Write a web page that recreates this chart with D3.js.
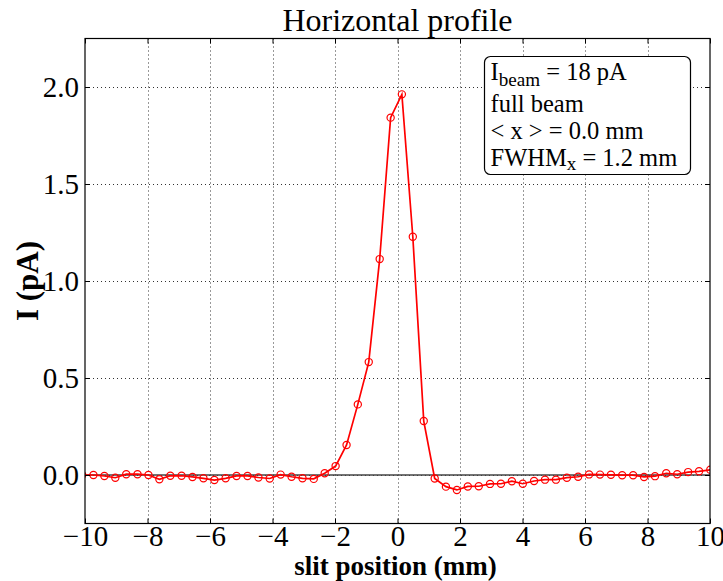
<!DOCTYPE html>
<html>
<head>
<meta charset="utf-8">
<script src="https://cdn.jsdelivr.net/npm/d3@7/dist/d3.min.js"></script>
<style>
  html, body { margin: 0; padding: 0; background: #fff; }
  svg { display: block; }
  text { font-family: "Liberation Serif", "DejaVu Serif", serif; fill: #000; }
</style>
</head>
<body>
<svg id="chart" width="723" height="581"></svg>
<script>
// Slit scan positions (mm) and measured current (pA)
const slitPos = [
  -10.09, -9.73, -9.38, -9.03, -8.68, -8.32, -7.97, -7.62, -7.27, -6.91,
  -6.56, -6.21, -5.86, -5.50, -5.15, -4.80, -4.45, -4.09, -3.74, -3.39,
  -3.04, -2.68, -2.33, -1.98, -1.63, -1.27, -0.92, -0.57, -0.22, 0.14,
  0.49, 0.84, 1.19, 1.55, 1.90, 2.25, 2.60, 2.96, 3.31, 3.66,
  4.01, 4.37, 4.72, 5.07, 5.42, 5.78, 6.13, 6.48, 6.83, 7.19,
  7.54, 7.89, 8.24, 8.60, 8.95, 9.30, 9.65, 10.01
];
const currentPA = [
  0.000, 0.000, -0.005, -0.014, 0.004, 0.004, 0.000, -0.022, -0.004, -0.004,
  -0.010, -0.017, -0.026, -0.017, -0.005, -0.005, -0.013, -0.018, 0.002, -0.009,
  -0.017, -0.020, 0.009, 0.046, 0.155, 0.364, 0.582, 1.113, 1.842, 1.962,
  1.228, 0.278, -0.018, -0.060, -0.077, -0.059, -0.058, -0.046, -0.045, -0.032,
  -0.045, -0.031, -0.024, -0.024, -0.014, -0.009, 0.003, 0.002, 0.001, -0.001,
  -0.001, -0.010, -0.006, 0.009, 0.004, 0.015, 0.019, 0.027
];
const xTicks = [-10, -8, -6, -4, -2, 0, 2, 4, 6, 8, 10];
const yTicks = [0.0, 0.5, 1.0, 1.5, 2.0];
const xDomain = [-10, 10];
const yDomain = [-0.25, 2.25];
const titleText = "Horizontal profile";
const xLabelText = "slit position (mm)";
const yLabelText = "I (pA)";

const svg = d3.select("#chart");
const plot = { left: 85, right: 710, top: 38.5, bottom: 523.5 };

const x = d3.scaleLinear().domain(xDomain).range([plot.left, plot.right]);
const y = d3.scaleLinear().domain(yDomain).range([plot.bottom, plot.top]);

svg.append("defs").append("clipPath").attr("id", "plotClip")
  .append("rect")
  .attr("x", plot.left).attr("y", plot.top)
  .attr("width", plot.right - plot.left).attr("height", plot.bottom - plot.top);

// dotted grid
const grid = svg.append("g").attr("stroke", "#000").attr("stroke-width", 1)
  .attr("stroke-dasharray", "1,3").attr("opacity", 0.8);
grid.selectAll("line.vx").data(xTicks.slice(1, -1)).join("line")
  .attr("x1", d => Math.round(x(d)) + 0.5).attr("x2", d => Math.round(x(d)) + 0.5)
  .attr("y1", plot.top).attr("y2", plot.bottom);
grid.selectAll("line.hy").data(yTicks).join("line")
  .attr("y1", d => Math.round(y(d)) + 0.5).attr("y2", d => Math.round(y(d)) + 0.5)
  .attr("x1", plot.left).attr("x2", plot.right);

// zero reference line
svg.append("line")
  .attr("x1", plot.left).attr("x2", plot.right)
  .attr("y1", y(0)).attr("y2", y(0))
  .attr("stroke", "#444").attr("stroke-width", 1.5);

// profile curve with open circle markers
const data = slitPos.map((p, i) => [p, currentPA[i]]);
const curve = svg.append("g").attr("clip-path", "url(#plotClip)");
curve.append("path")
  .datum(data)
  .attr("fill", "none").attr("stroke", "#ff0000").attr("stroke-width", 1.7)
  .attr("d", d3.line().x(d => x(d[0])).y(d => y(d[1])));
curve.selectAll("circle").data(data).join("circle")
  .attr("cx", d => x(d[0])).attr("cy", d => y(d[1])).attr("r", 3.6)
  .attr("fill", "none").attr("stroke", "#ff0000").attr("stroke-width", 1.2);

// axes frame with inward ticks on all sides
const tickLen = 5;
const tickFont = 29;
const axisG = svg.append("g");
const fmtX = d => (d < 0 ? "\u2212" + Math.abs(d) : String(d));
const xAxisBottom = d3.axisBottom(x).tickValues(xTicks).tickSize(-tickLen).tickFormat(fmtX);
const xAxisTop = d3.axisTop(x).tickValues(xTicks).tickSize(-tickLen).tickFormat("");
const yAxisLeft = d3.axisLeft(y).tickValues(yTicks).tickSize(-tickLen).tickPadding(6).tickFormat(d3.format(".1f"));
const yAxisRight = d3.axisRight(y).tickValues(yTicks).tickSize(-tickLen).tickFormat("");

const gxb = axisG.append("g").attr("transform", `translate(0,${plot.bottom})`).call(xAxisBottom);
const gxt = axisG.append("g").attr("transform", `translate(0,${plot.top})`).call(xAxisTop);
const gyl = axisG.append("g").attr("transform", `translate(${plot.left},0)`).call(yAxisLeft);
const gyr = axisG.append("g").attr("transform", `translate(${plot.right},0)`).call(yAxisRight);
[gxb, gxt, gyl, gyr].forEach(g => {
  g.select(".domain").remove();
  g.attr("font-family", null).attr("font-size", null);
  g.selectAll(".tick line").attr("stroke", "#000").attr("stroke-width", 1);
  g.selectAll("text").attr("fill", "#000").attr("font-size", tickFont);
});
gxb.selectAll("text").attr("y", 22.5).attr("dy", 0);
gyl.selectAll("text").attr("dy", "0.33em");

svg.append("rect")
  .attr("x", plot.left).attr("y", plot.top)
  .attr("width", plot.right - plot.left).attr("height", plot.bottom - plot.top)
  .attr("fill", "none").attr("stroke", "#000").attr("stroke-width", 1.2);

// title and axis labels
svg.append("text")
  .attr("x", (plot.left + plot.right) / 2).attr("y", 31)
  .attr("text-anchor", "middle").attr("font-size", 32)
  .text(titleText);
svg.append("text")
  .attr("x", (plot.left + plot.right) / 2 - 2).attr("y", 574.5)
  .attr("text-anchor", "middle").attr("font-size", 27).attr("font-weight", "bold")
  .text(xLabelText);
svg.append("text")
  .attr("transform", `translate(38,${(plot.top + plot.bottom) / 2}) rotate(-90)`)
  .attr("text-anchor", "middle").attr("font-size", 31).attr("font-weight", "bold")
  .text(yLabelText);

// annotation box: four lines of beam information
const box = { x: 484.5, y: 56.5, w: 206, h: 118 };
svg.append("rect")
  .attr("x", box.x).attr("y", box.y).attr("width", box.w).attr("height", box.h)
  .attr("rx", 6).attr("ry", 6)
  .attr("fill", "#fff").attr("stroke", "#000").attr("stroke-width", 1.2);

const tx = box.x + 6;
const fs = 24.5;
const subFs = fs * 0.78;

const l1 = svg.append("text").attr("x", tx).attr("y", 80).attr("font-size", fs);
l1.append("tspan").text("I");
l1.append("tspan").attr("font-size", subFs).attr("dy", 6).text("beam");
l1.append("tspan").attr("dy", -6).text(" = 18 pA");

svg.append("text").attr("x", tx).attr("y", 111.5).attr("font-size", fs).text("full beam");
svg.append("text").attr("x", tx).attr("y", 138.5).attr("font-size", fs).text("< x > = 0.0 mm");

const l4 = svg.append("text").attr("x", tx).attr("y", 165.5).attr("font-size", fs);
l4.append("tspan").text("FWHM");
l4.append("tspan").attr("font-size", subFs).attr("dy", 4).text("x");
l4.append("tspan").attr("dy", -4).text(" = 1.2 mm");
</script>
</body>
</html>
